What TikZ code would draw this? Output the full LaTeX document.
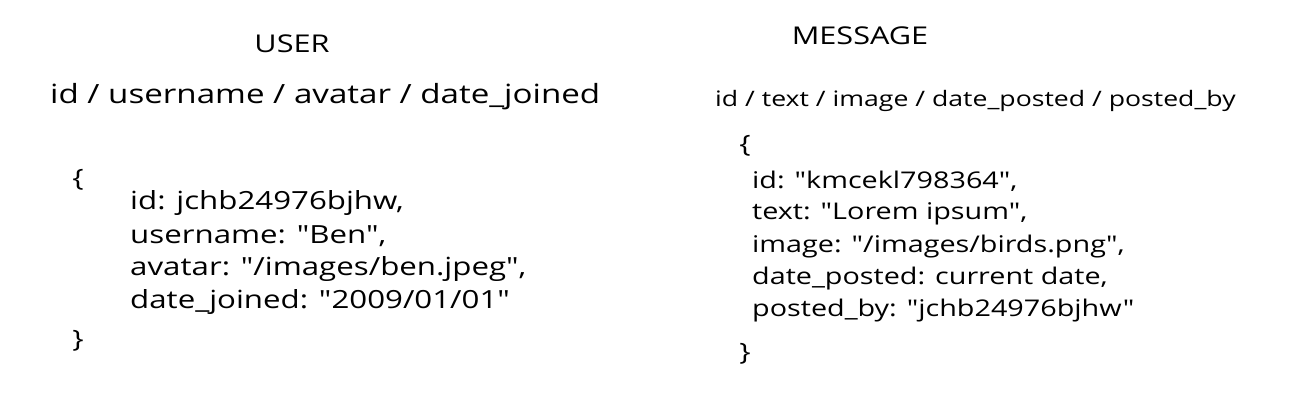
\documentclass[tikz,border=0pt]{standalone}
\usepackage{fontspec}
\setmainfont{Open Sans}[Ligatures=TeXOff, FakeStretch=1.25]
\tikzset{
  heading/.style={inner sep=0pt, font=\fontsize{24.5}{28}\selectfont},
  fieldlist/.style={anchor=west, inner sep=0pt, font=\fontsize{26.5}{32}\selectfont},
  fieldlistsmall/.style={anchor=west, inner sep=0pt, font=\fontsize{21.3}{25}\selectfont},
  entry/.style={anchor=west, inner sep=0pt, font=\fontsize{25}{30}\selectfont},
  entrysmall/.style={anchor=west, inner sep=0pt, font=\fontsize{23}{28}\selectfont},
  bracket/.style={inner sep=0pt, font=\fontsize{24}{28}\selectfont}
}
\begin{document}
\begin{tikzpicture}[x=1pt,y=-1pt]
        \useasboundingbox (0,0) rectangle (1301,416);

        %user
        \node[heading] (user) at (292,44) {USER};
        \node[fieldlist] (userfields) at (50,97) {id / username / avatar / date\_joined};
        \node[bracket] (useropen) at (78,180) {\{};
        \node[entry] (userid) at (130,203) {id: jchb24976bjhw,};
        \node[entry] (username) at (130,236) {username: "Ben",};
        \node[entry] (useravatar) at (130,269) {avatar: "/images/ben.jpeg",};
        \node[entry] (userjoined) at (130,302) {date\_joined: "2009/01/01"};
        \node[bracket] (userclose) at (78,341) {\}};

        %message
        \node[heading] (message) at (860,36) {MESSAGE};
        \node[fieldlistsmall] (messagefields) at (715,101) {id / text / image / date\_posted / posted\_by};
        \node[bracket] (messageopen) at (745,146) {\{};
        \node[entrysmall] (messageid) at (752,181) {id: "kmcekl798364",};
        \node[entrysmall] (messagetext) at (752,214) {text: "Lorem ipsum",};
        \node[entrysmall] (messageimage) at (752,247) {image: "/images/birds.png",};
        \node[entrysmall] (messagedate) at (752,279) {date\_posted: current date,};
        \node[entrysmall] (messageby) at (752,311) {posted\_by: "jchb24976bjhw"};
        \node[bracket] (messageclose) at (745,354) {\}};
    \end{tikzpicture}
\end{document}
